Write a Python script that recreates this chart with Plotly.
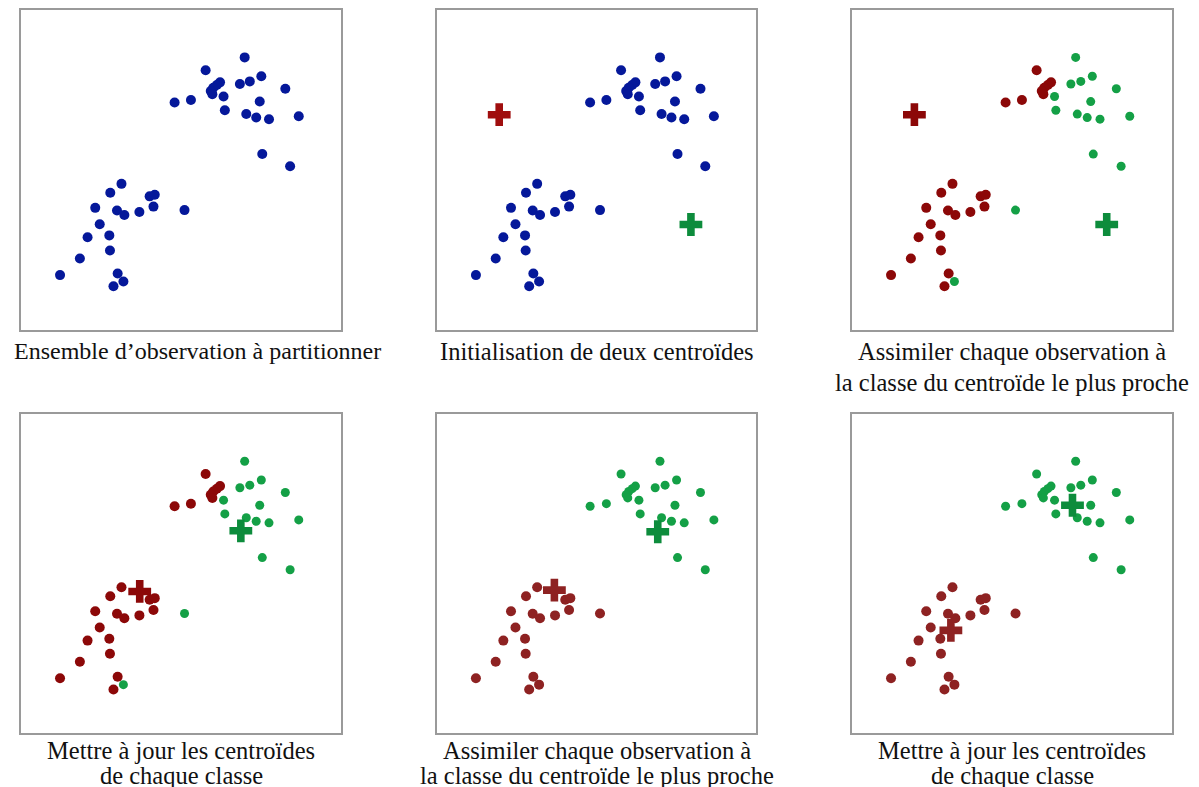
import plotly.graph_objects as go

# Observations (same 41 points in every panel)
X = [6.99, 5.77, 7.51, 7.15, 6.84, 6.22, 6.12, 6.01, 5.93, 5.98, 8.26, 6.33,
     7.46, 5.31, 4.80, 6.37, 7.04, 7.35, 7.75, 8.68, 7.54, 8.41,
     3.14, 2.79, 4.02, 4.18, 4.14, 2.32, 3.00, 3.23, 3.70, 5.11, 2.46, 2.08,
     2.76, 2.78, 1.84, 1.22, 3.02, 3.20, 2.89]
Y = [8.52, 8.12, 7.93, 7.77, 7.69, 7.74, 7.66, 7.57, 7.47, 7.37, 7.54, 7.30,
     7.14, 7.19, 7.11, 6.87, 6.75, 6.64, 6.59, 6.68, 5.50, 5.12,
     4.57, 4.29, 4.18, 4.23, 3.86, 3.82, 3.74, 3.60, 3.69, 3.75, 3.31, 2.90,
     2.96, 2.49, 2.24, 1.72, 1.77, 1.52, 1.37]

# 0 = classe rouge, 1 = classe verte
LABELS_STEP1 = [1, 0, 1, 1, 1, 0, 0, 0, 0, 0, 1, 1, 1, 0, 0, 1, 1, 1, 1, 1, 1, 1,
                0, 0, 0, 0, 0, 0, 0, 0, 0, 1, 0, 0, 0, 0, 0, 0, 0, 1, 0]
LABELS_FINAL = [1] * 22 + [0] * 19

# Centroïdes (x rouge/vert, y rouge/vert) par étape
CENTROIDS = {
    "init": ([1.95, 7.96], [6.73, 3.30]),
    "update1": ([3.71, 6.87], [4.44, 6.34]),
    "assign2": ([3.68, 6.92], [4.48, 6.31]),
    "update2": ([3.09, 6.89], [3.22, 7.14]),
}

CAPTIONS = [
    ["Ensemble d’observation à partitionner"],
    ["Initialisation de deux centroïdes"],
    ["Assimiler chaque observation à", "la classe du centroïde le plus proche"],
    ["Mettre à jour les centroïdes", "de chaque classe"],
    ["Assimiler chaque observation à", "la classe du centroïde le plus proche"],
    ["Mettre à jour les centroïdes", "de chaque classe"],
]

BLUE = "#05189a"
RED_A = "#8c0808"
RED_B = "#8e2222"
RED_PLUS = "#a00e0e"
GREEN = "#14a046"
GREEN_PLUS = "#0d8c3c"

W, H = 1199, 787
OFF = 8  # marge du body html
X_PIX = [(21, 341), (437, 756), (852, 1172)]
Y_PIX = [(8, 329), (413, 733)]
CAP_Y = [(350, 381), (750, 775)]

# panel: (labels, red colour, centroid key)
PANELS = [
    (None, None, None),
    (None, None, "init"),
    (LABELS_STEP1, RED_A, "init"),
    (LABELS_STEP1, RED_A, "update1"),
    (LABELS_FINAL, RED_B, "assign2"),
    (LABELS_FINAL, RED_B, "update2"),
]


def px_x(p):
    return min(1, max(0, (p - OFF) / W))


def px_y(p):
    return min(1, max(0, 1 - (p - OFF) / H))


fig = go.Figure()
layout = {}
for i, (labels, red, ckey) in enumerate(PANELS):
    row, col = divmod(i, 3)
    n = i + 1
    xa = "x" if n == 1 else f"x{n}"
    ya = "y" if n == 1 else f"y{n}"
    x0, x1 = X_PIX[col]
    y0, y1 = Y_PIX[row]
    ax = dict(range=[0, 10], showgrid=False, zeroline=False, showticklabels=False,
              ticks="", showline=True, mirror=True, linecolor="#9a9a9a", linewidth=2,
              fixedrange=True)
    layout["xaxis" if n == 1 else f"xaxis{n}"] = dict(ax, domain=[px_x(x0), px_x(x1)], anchor=ya)
    layout["yaxis" if n == 1 else f"yaxis{n}"] = dict(ax, domain=[px_y(y1), px_y(y0)], anchor=xa)

    if labels is None:
        fig.add_trace(go.Scatter(x=X, y=Y, mode="markers", xaxis=xa, yaxis=ya,
                                 marker=dict(color=BLUE, size=10), showlegend=False))
    else:
        for cls, color, size in [(0, red, 10), (1, GREEN, 9)]:
            fig.add_trace(go.Scatter(
                x=[x for x, l in zip(X, labels) if l == cls],
                y=[y for y, l in zip(Y, labels) if l == cls],
                mode="markers", xaxis=xa, yaxis=ya,
                marker=dict(color=color, size=size), showlegend=False))

    if ckey:
        cx, cy = CENTROIDS[ckey]
        pc = RED_PLUS if i == 1 else red
        fig.add_trace(go.Scatter(x=cx, y=cy, mode="markers", xaxis=xa, yaxis=ya,
                                 marker=dict(symbol="cross", size=19, color=[pc, GREEN_PLUS],
                                             line=dict(width=0)),
                                 showlegend=False))

    # la première légende déborde à gauche : on la décale un peu
    cx_pix = 197 if i == 0 else (x0 + x1) / 2
    fsize = 24 if i == 0 else 24.5
    for line, cy_pix in zip(CAPTIONS[i], CAP_Y[row]):
        fig.add_annotation(
            x=px_x(cx_pix), y=px_y(cy_pix), xref="paper", yref="paper",
            xanchor="center", yanchor="middle", text=line, showarrow=False,
            font=dict(family="Liberation Serif", size=fsize, color="#111"),
        )

fig.update_layout(
    **layout,
    width=W, height=H,
    margin=dict(l=0, r=0, t=0, b=0),
    paper_bgcolor="white", plot_bgcolor="white",
)

fig.write_html("out.html")
